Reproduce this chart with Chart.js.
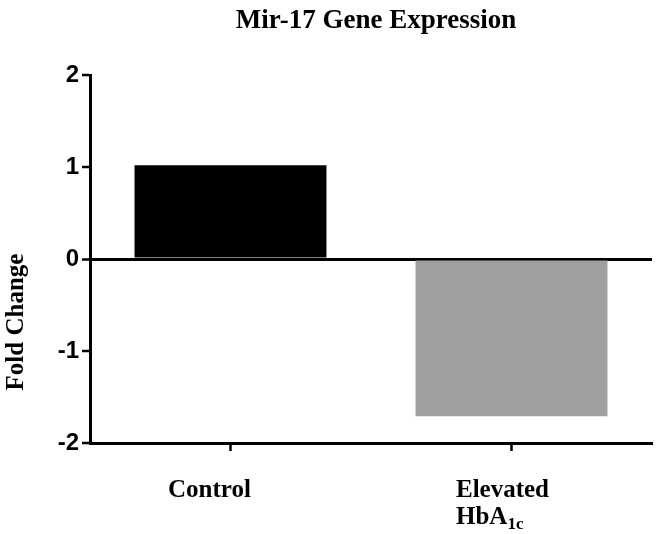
<!DOCTYPE html>
<html>
<head>
<meta charset="utf-8">
<script src="https://cdn.jsdelivr.net/npm/chart.js@4/dist/chart.umd.min.js"></script>
<style>
  html, body { margin: 0; padding: 0; background: #fff; }
  #wrap { width: 657px; height: 534px; }
</style>
</head>
<body>
<div id="wrap"><canvas id="myChart" width="657" height="534"></canvas></div>
<script>
// data
let categories = ["Control", "Elevated HbA1c"],
    foldChange = [1.02, -1.71],
    barColors = ["#000000", "#a0a0a0"],
    yTicks = [-2, -1, 0, 1, 2];

const chartTitle = "Mir-17 Gene Expression";
const yTitle = "Fold Change";

const SERIF = "'Liberation Serif', 'Times New Roman', serif";
const SANS = "'Liberation Sans', Arial, sans-serif";

// draws title, y title and category labels (HbA1c needs a subscript)
const textPlugin = {
    id: "texts",
    afterDraw(chart) {
        let ctx = chart.ctx,
            xs = chart.scales.x,
            area = chart.chartArea;
        ctx.save();
        ctx.fillStyle = "#000";
        ctx.textBaseline = "alphabetic";

        ctx.font = "bold 27px " + SERIF;
        ctx.textAlign = "center";
        ctx.fillText(chartTitle, (area.left + area.right) / 2 + 5, 28);

        ctx.save();
        ctx.translate(23, 322);
        ctx.rotate(-Math.PI / 2);
        ctx.font = "bold 25px " + SERIF;
        ctx.fillText(yTitle, 0, 0);
        ctx.restore();

        ctx.textAlign = "left";
        ctx.font = "bold 25px " + SERIF;
        // Control
        let cx = xs.getPixelForValue(0) - 21;
        let w = ctx.measureText(categories[0]).width;
        ctx.fillText(categories[0], cx - w / 2, 497);

        // Elevated / HbA1c
        let ex = xs.getPixelForValue(1) - 9;
        let w1 = ctx.measureText("Elevated").width;
        let left = ex - w1 / 2;
        ctx.fillText("Elevated", left, 497);
        ctx.fillText("HbA", left, 524);
        let wh = ctx.measureText("HbA").width;
        ctx.font = "bold 17px " + SERIF;
        ctx.fillText("1c", left + wh, 529);
        ctx.restore();
    }
};

const data = {
    labels: categories,
    datasets: [{
        data: foldChange,
        backgroundColor: barColors,
        borderWidth: 0,
        barPercentage: 0.683,
        categoryPercentage: 1.0
    }]
};

const config = {
    type: "bar",
    data: data,
    plugins: [textPlugin],
    options: {
        responsive: false,
        animation: false,
        layout: { padding: { top: 75, right: 5, left: 0, bottom: 0 } },
        plugins: {
            legend: { display: false },
            title: { display: false },
            tooltip: { enabled: false }
        },
        scales: {
            x: {
                afterFit: s => { s.height = 91; },
                grid: {
                    offset: false,
                    drawOnChartArea: false,
                    drawTicks: true,
                    tickLength: 8,
                    tickWidth: 2.5,
                    tickColor: "#000"
                },
                border: { display: true, color: "#000", width: 3 },
                ticks: { display: false }
            },
            y: {
                min: -2,
                max: 2,
                afterFit: s => { s.width = 90; },
                afterBuildTicks: s => { s.ticks = yTicks.map(v => ({ value: v })); },
                grid: {
                    drawOnChartArea: true,
                    lineWidth: c => (c.tick && c.tick.value === 0 ? 3 : 0),
                    color: "#000",
                    drawTicks: true,
                    tickLength: 8,
                    tickWidth: 2.5,
                    tickColor: "#000"
                },
                border: { display: true, color: "#000", width: 3 },
                ticks: {
                    color: "#000",
                    padding: 3,
                    font: { family: SANS, weight: "bold", size: 24 }
                }
            }
        }
    }
};

var myChart = new Chart(document.getElementById("myChart"), config);
</script>
</body>
</html>
